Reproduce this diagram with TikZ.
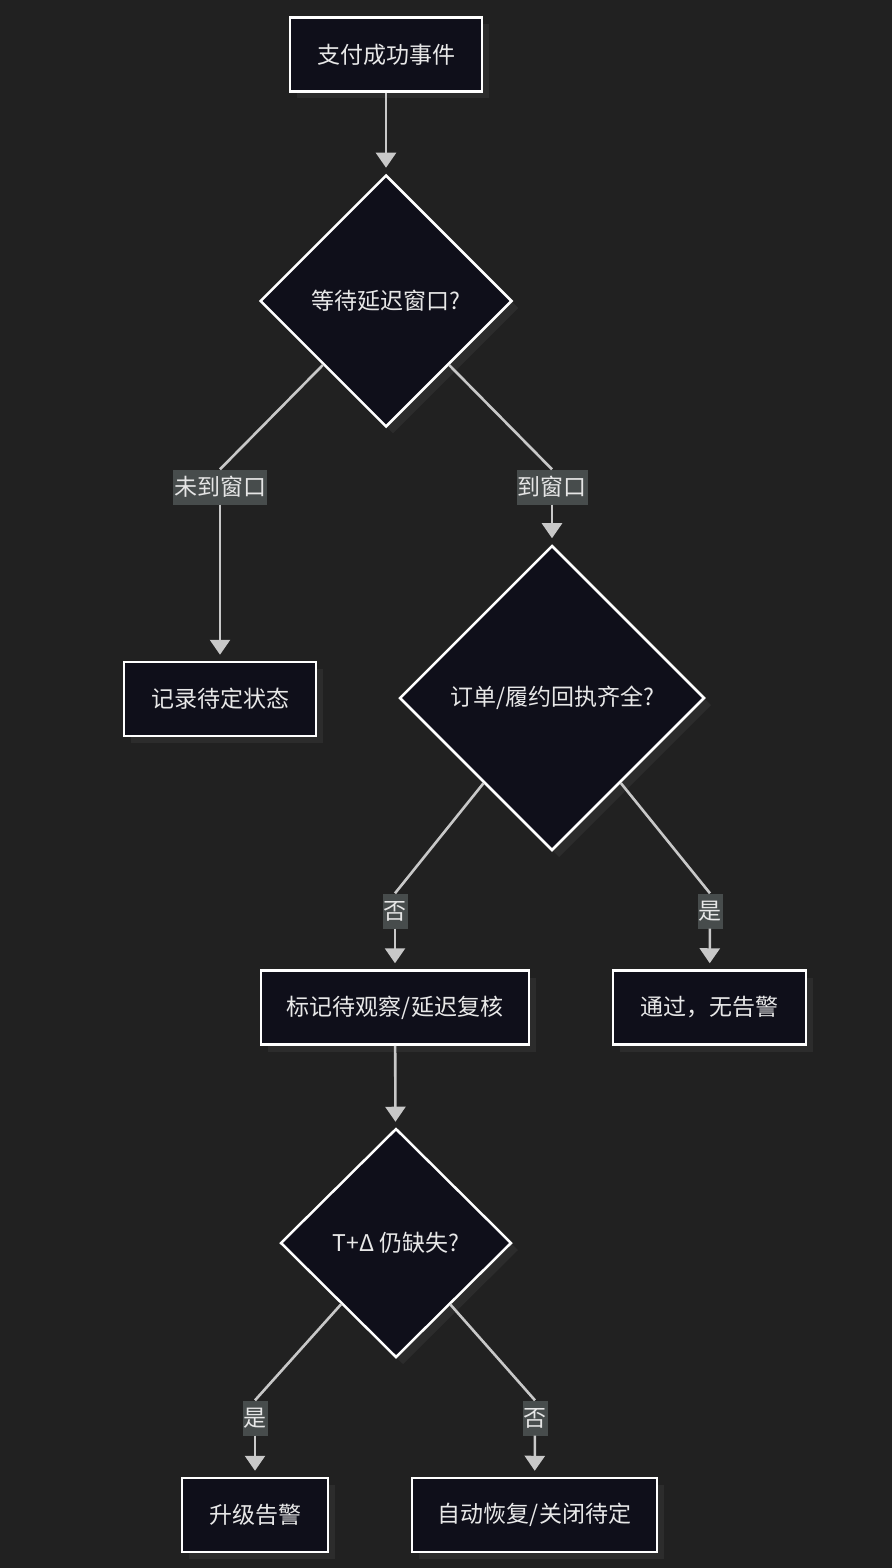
\documentclass[tikz,border=0pt]{standalone}
\usepackage{fontspec}
\setmainfont{Noto Sans CJK SC}
\usetikzlibrary{arrows.meta,shapes.geometric,shadows}
\definecolor{bgc}{HTML}{212121}
\definecolor{nodefill}{HTML}{0F0F1A}
\definecolor{nodetext}{HTML}{E8E8E8}
\definecolor{shadowc}{HTML}{2C2C2C}
\definecolor{edgec}{HTML}{C8C8C8}
\definecolor{lblbg}{HTML}{474C4C}
\definecolor{lbltext}{HTML}{E6E6E6}

\begin{document}
\begin{tikzpicture}[
  x=1pt, y=-1pt,
  font=\fontsize{23}{27}\selectfont,
  box/.style={draw=white, line width=2.5pt, fill=nodefill, text=nodetext,
    minimum height=74pt, inner sep=0pt,
    drop shadow={shadow xshift=7pt, shadow yshift=-7pt, fill=shadowc, opacity=1}},
  dec/.style={box, diamond, aspect=1},
  lbl/.style={fill=lblbg, text=lbltext, inner xsep=1pt, inner ysep=0pt, minimum height=35pt},
  line/.style={draw=edgec, line width=2.6pt},
  arr/.style={line, -{Triangle[length=15pt,width=20pt]}, shorten >=6pt}
]

% background and page size
\fill[bgc] (0,0) rectangle (892,1568);

% row 1-2: event and window check
\node[box, minimum width=192pt] (paid) at (386,54.5) {支付成功事件};
\node[dec, minimum width=252pt, minimum height=252pt] (waitwin) at (386,301) {等待延迟窗口?};
\draw[arr] (paid) -- (waitwin);

% row 3: window branches
\node[lbl] (notyet)  at (220,487) {未到窗口};
\node[lbl] (reached) at (552,487) {到窗口};
\node[box, minimum width=192pt] (pending) at (220,699) {记录待定状态};
\node[dec, minimum width=305pt, minimum height=305pt] (receipts) at (552,698) {订单/履约回执齐全?};
\draw[line] (waitwin) -- (notyet.north);
\draw[arr]  (notyet) -- (pending);
\draw[line] (waitwin) -- (reached.north);
\draw[arr]  (reached) -- (receipts);

% row 4: receipts complete or not
\node[lbl] (nocomp)  at (395,911) {否};
\node[lbl] (yescomp) at (710,911) {是};
\node[box, minimum width=268pt] (observe) at (395,1007.5) {标记待观察/延迟复核};
\node[box, minimum width=193pt] (pass)    at (709.5,1007.5) {通过，无告警};
\draw[line] (receipts) -- (nocomp.north);
\draw[arr]  (nocomp) -- (observe);
\draw[line] (receipts) -- (yescomp.north);
\draw[arr]  (yescomp) -- (pass);

% row 5: recheck after T+delta
\node[dec, minimum width=231pt, minimum height=229pt] (stillmiss) at (396,1243) {T+Δ 仍缺失?};
\draw[arr] (observe) -- (stillmiss);

% row 6: escalate or close
\node[lbl] (yesmiss) at (255,1418) {是};
\node[lbl] (nomiss)  at (535,1418) {否};
\node[box, minimum width=146pt] (escalate)  at (255,1515) {升级告警};
\node[box, minimum width=245pt] (autoclose) at (534.5,1515) {自动恢复/关闭待定};
\draw[line] (stillmiss) -- (yesmiss.north);
\draw[arr]  (yesmiss) -- (escalate);
\draw[line] (stillmiss) -- (nomiss.north);
\draw[arr]  (nomiss) -- (autoclose);

\end{tikzpicture}
\end{document}
